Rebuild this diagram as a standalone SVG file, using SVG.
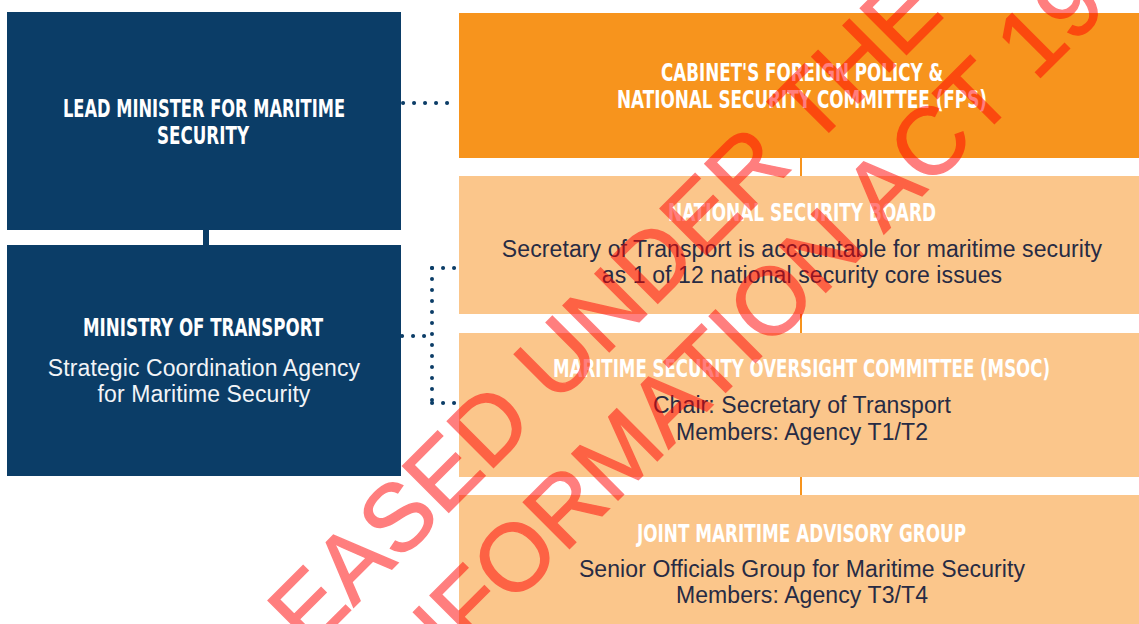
<svg xmlns="http://www.w3.org/2000/svg" width="1139" height="624" viewBox="0 0 1139 624">
  <style>
    .navy { fill: #0b3d67; }
    .fps { fill: #f7941d; }
    .sub { fill: #fbc68b; }
    .head { font-family: "Liberation Sans Narrow", "DejaVu Sans Condensed", "Liberation Sans", sans-serif; font-weight: bold; font-size: 24px; fill: #ffffff; text-anchor: middle; }
    .body { font-family: "Liberation Sans", Arial, sans-serif; font-size: 23px; text-anchor: middle; letter-spacing: 0.1px; }
    .light { fill: #f2f4f7; }
    .dark { fill: #272b44; }
    .dots { fill: none; stroke: #0b3d67; stroke-width: 4; stroke-linecap: round; stroke-dasharray: 0.1 10.9; }
    .spine { fill: none; stroke: #f7941d; stroke-width: 2; }
    .stamp { font-family: "Liberation Sans", Arial, sans-serif; font-size: 95px; fill: #ff0000; stroke: #ff0000; stroke-width: 1.4; text-anchor: middle; }
  </style>

  <rect width="1139" height="624" fill="#ffffff"/>

  <!-- connectors -->
  <g id="connectors">
    <rect x="203" y="230" width="6" height="16" class="navy"/>
    <path class="spine" d="M801,158 V176 M801,314 V333 M801,477 V495"/>
    <path class="dots" d="M403,103 H456"/>
    <path class="dots" d="M402,336 H432"/>
    <path class="dots" d="M432,268 V403"/>
    <path class="dots" d="M432,268 H456 M432,403 H456"/>
  </g>

  <g id="lead-minister">
    <rect x="7" y="12" width="394" height="218" class="navy"/>
    <text class="head" x="204" y="117" textLength="282" lengthAdjust="spacingAndGlyphs">LEAD MINISTER FOR MARITIME</text>
    <text class="head" x="203" y="144" textLength="92" lengthAdjust="spacingAndGlyphs">SECURITY</text>
  </g>

  <g id="ministry-of-transport">
    <rect x="7" y="245" width="394" height="231" class="navy"/>
    <text class="head" x="203" y="336" textLength="240" lengthAdjust="spacingAndGlyphs">MINISTRY OF TRANSPORT</text>
    <text class="body light" x="204" y="376">Strategic Coordination Agency</text>
    <text class="body light" x="204" y="402">for Maritime Security</text>
  </g>

  <g id="fps-committee">
    <rect x="459" y="13" width="680" height="145" class="fps"/>
    <text class="head" x="802" y="81" textLength="282" lengthAdjust="spacingAndGlyphs">CABINET'S FOREIGN POLICY &amp;</text>
    <text class="head" x="802" y="108" textLength="370" lengthAdjust="spacingAndGlyphs">NATIONAL SECURITY COMMITTEE (FPS)</text>
  </g>

  <g id="national-security-board">
    <rect x="459" y="176" width="680" height="138" class="sub"/>
    <text class="head" x="802" y="221" textLength="268" lengthAdjust="spacingAndGlyphs">NATIONAL SECURITY BOARD</text>
    <text class="body dark" x="802" y="257">Secretary of Transport is accountable for maritime security</text>
    <text class="body dark" x="802" y="283">as 1 of 12 national security core issues</text>
  </g>

  <g id="msoc">
    <rect x="459" y="333" width="680" height="144" class="sub"/>
    <text class="head" x="801.5" y="377" textLength="497" lengthAdjust="spacingAndGlyphs">MARITIME SECURITY OVERSIGHT COMMITTEE (MSOC)</text>
    <text class="body dark" x="802" y="413">Chair: Secretary of Transport</text>
    <text class="body dark" x="802" y="440">Members: Agency T1/T2</text>
  </g>

  <g id="joint-maritime-advisory-group">
    <rect x="459" y="495" width="680" height="129" class="sub"/>
    <text class="head" x="801.5" y="542" textLength="329" lengthAdjust="spacingAndGlyphs">JOINT MARITIME ADVISORY GROUP</text>
    <text class="body dark" x="802" y="577">Senior Officials Group for Maritime Security</text>
    <text class="body dark" x="802" y="603">Members: Agency T3/T4</text>
  </g>

  <!-- release stamp across the chart -->
  <g id="stamp" opacity="0.5">
    <text class="stamp" transform="translate(562,399) rotate(-45)">RELEASED UNDER THE</text>
    <text class="stamp" transform="translate(635,483) rotate(-45)">OFFICIAL INFORMATION ACT 1982</text>
  </g>
</svg>
